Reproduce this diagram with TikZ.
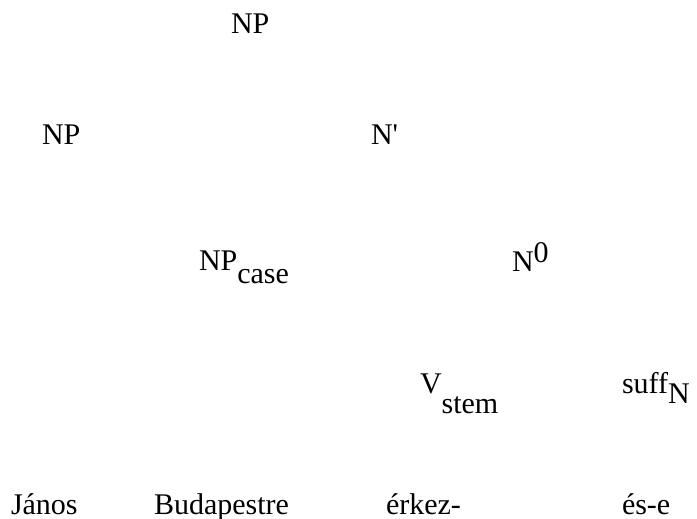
\documentclass[tikz,border=0pt]{standalone}
\usepackage{fontspec}
\setmainfont{Liberation Serif}
\tikzset{
  lab/.style={anchor=base west, inner sep=0pt, outer sep=0pt, font=\fontsize{30}{36}\selectfont},
}
\begin{document}
\begin{tikzpicture}[x=1pt,y=-1pt]
\useasboundingbox (0,0) rectangle (697,519);
\node[lab] (np0) at (231,34) {NP};
\node[lab] (np1) at (42,144) {NP};
\node[lab] (nbar) at (371,144) {N\textquotesingle};
\node[lab] (npcase) at (199,270) {NP\raisebox{-13pt}{case}};
\node[lab] (n0) at (512,271) {N\raisebox{9pt}{0}};
\node[lab] (vstem) at (420,393) {V\raisebox{-20pt}{stem}};
\node[lab] (suffn) at (622,393) {suff\raisebox{-10pt}{N}};
\node[lab] (w1) at (11,514) {János};
\node[lab] (w2) at (154,514) {Budapestre};
\node[lab] (w3) at (386,514) {érkez-};
\node[lab] (w4) at (622,514) {és-e};
\end{tikzpicture}
\end{document}
